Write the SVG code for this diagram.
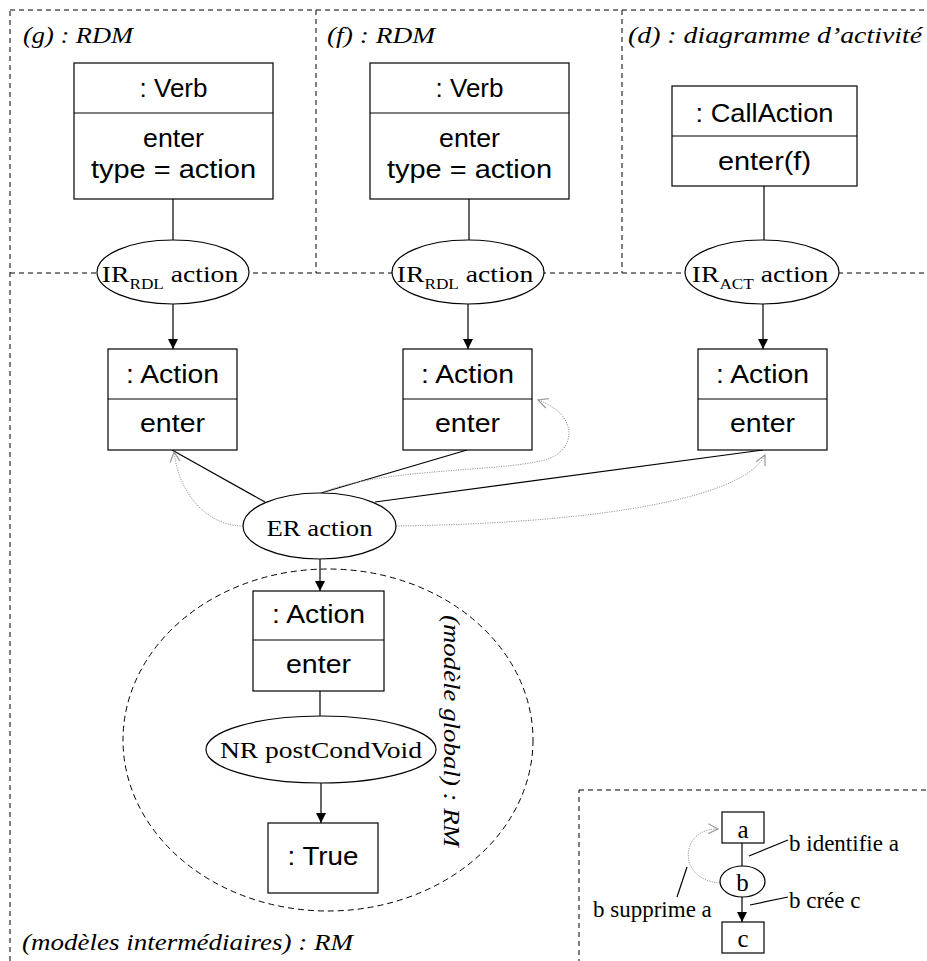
<svg xmlns="http://www.w3.org/2000/svg" width="927" height="961" viewBox="0 0 927 961">
<defs>
<style>
.bg{fill:#fff}
.region{fill:none;stroke:#000;stroke-width:1;stroke-dasharray:5,4}
.box{fill:#fff;stroke:#000;stroke-width:1.2}
.div{stroke:#000;stroke-width:1.2}
.ell{fill:#fff;stroke:#000;stroke-width:1.2}
.line{fill:none;stroke:#000;stroke-width:1.2}
.arrow{fill:none;stroke:#000;stroke-width:1.2;marker-end:url(#solid)}
.dot{fill:none;stroke:#999;stroke-width:1;stroke-dasharray:1.2,1.2;marker-end:url(#open)}
.sans{font-family:"Liberation Sans",Arial,sans-serif;font-size:25px;fill:#000;text-anchor:middle}
.serif{font-family:"Liberation Serif","Times New Roman",serif;font-size:24px;fill:#000}
.it{font-style:italic}
.mid{text-anchor:middle}
.sub{font-size:15px}
</style>
<marker id="solid" markerUnits="userSpaceOnUse" markerWidth="10" markerHeight="10" refX="10" refY="5" orient="auto">
<path d="M0,0 L10,5 L0,10 z" fill="#000"/>
</marker>
<marker id="open" markerUnits="userSpaceOnUse" markerWidth="12" markerHeight="12" refX="10" refY="6" orient="auto">
<path d="M0,1 L10,6 L0,11" fill="none" stroke="#999" stroke-width="1.2"/>
</marker>
</defs>
<rect class="bg" x="0" y="0" width="927" height="961"/>

<g id="regions">
<rect class="region" x="10" y="10" width="940" height="980"/>
<line class="region" x1="10" y1="273" x2="950" y2="273"/>
<line class="region" x1="316" y1="10" x2="316" y2="273"/>
<line class="region" x1="622" y1="10" x2="622" y2="273"/>
<rect class="region" x="579" y="790" width="400" height="200"/>
<ellipse class="region" cx="328" cy="740" rx="205" ry="171" style="stroke-dasharray:6,4"/>
<text class="serif it" x="23" y="43" textLength="110" lengthAdjust="spacingAndGlyphs">(g) : RDM</text>
<text class="serif it" x="327" y="43" textLength="108" lengthAdjust="spacingAndGlyphs">(f) : RDM</text>
<text class="serif it" x="628" y="43" textLength="294" lengthAdjust="spacingAndGlyphs">(d) : diagramme d’activité</text>
<text class="serif it mid" transform="translate(444,731) rotate(90)" textLength="232" lengthAdjust="spacingAndGlyphs">(modèle global) : RM</text>
<text class="serif it" x="22" y="950" textLength="331" lengthAdjust="spacingAndGlyphs">(modèles intermédiaires) : RM</text>
</g>

<g id="connectors">
<line class="line" x1="173" y1="199" x2="173" y2="240"/>
<line class="line" x1="469" y1="199" x2="469" y2="240"/>
<line class="line" x1="764" y1="186" x2="764" y2="240"/>
<line class="arrow" x1="173" y1="304" x2="173" y2="349"/>
<line class="arrow" x1="468" y1="304" x2="468" y2="349"/>
<line class="arrow" x1="763" y1="304" x2="763" y2="349"/>
<line class="line" x1="172" y1="450" x2="265" y2="502"/>
<line class="line" x1="467" y1="450" x2="321" y2="493"/>
<line class="line" x1="763" y1="450" x2="375" y2="502"/>
<path class="dot" d="M243,526 C212,526 180,500 174,452"/>
<path class="dot" d="M321,493 C380,468 500,472 545,460 C578,450 578,414 538,400"/>
<path class="dot" d="M396,526 C560,524 740,505 765,455"/>
<line class="arrow" x1="320" y1="559" x2="320" y2="591"/>
<line class="line" x1="320" y1="691" x2="320" y2="716"/>
<line class="arrow" x1="321" y1="783" x2="321" y2="823"/>
<line class="line" x1="742" y1="843" x2="742" y2="866"/>
<line class="arrow" x1="742" y1="897" x2="742" y2="922"/>
<path class="dot" d="M720,883 C676,880 680,828 718,829"/>
<line class="line" x1="749" y1="856" x2="788" y2="840"/>
<line class="line" x1="750" y1="905" x2="788" y2="897"/>
<line class="line" x1="677" y1="897" x2="687" y2="867"/>
</g>

<g id="verb-g">
<rect class="box" x="74" y="63" width="199" height="136"/>
<line class="div" x1="74" y1="113" x2="273" y2="113"/>
<text class="sans" x="173.5" y="97" textLength="68" lengthAdjust="spacingAndGlyphs">: Verb</text>
<text class="sans" x="173.5" y="147" textLength="61" lengthAdjust="spacingAndGlyphs">enter</text>
<text class="sans" x="173.5" y="178" textLength="165" lengthAdjust="spacingAndGlyphs">type = action</text>
</g>
<g id="verb-f">
<rect class="box" x="370" y="63" width="199" height="136"/>
<line class="div" x1="370" y1="113" x2="569" y2="113"/>
<text class="sans" x="469.5" y="97" textLength="68" lengthAdjust="spacingAndGlyphs">: Verb</text>
<text class="sans" x="469.5" y="147" textLength="61" lengthAdjust="spacingAndGlyphs">enter</text>
<text class="sans" x="469.5" y="178" textLength="165" lengthAdjust="spacingAndGlyphs">type = action</text>
</g>
<g id="callaction-d">
<rect class="box" x="672" y="86" width="185" height="100"/>
<line class="div" x1="672" y1="136" x2="857" y2="136"/>
<text class="sans" x="764.5" y="122" textLength="138" lengthAdjust="spacingAndGlyphs">: CallAction</text>
<text class="sans" x="764.5" y="170" textLength="93" lengthAdjust="spacingAndGlyphs">enter(f)</text>
</g>

<g id="ir-g">
<ellipse class="ell" cx="173" cy="272" rx="76" ry="32"/>
<text class="serif mid" transform="translate(170,282) scale(1.15,1)">IR<tspan class="sub" dy="7">RDL</tspan><tspan dy="-7"> action</tspan></text>
</g>
<g id="ir-f">
<ellipse class="ell" cx="468" cy="272" rx="76" ry="32"/>
<text class="serif mid" transform="translate(465,282) scale(1.15,1)">IR<tspan class="sub" dy="7">RDL</tspan><tspan dy="-7"> action</tspan></text>
</g>
<g id="ir-d">
<ellipse class="ell" cx="762" cy="272" rx="77" ry="32"/>
<text class="serif mid" transform="translate(760,282) scale(1.15,1)">IR<tspan class="sub" dy="7">ACT</tspan><tspan dy="-7"> action</tspan></text>
</g>

<g id="action-g">
<rect class="box" x="108" y="349" width="129" height="101"/>
<line class="div" x1="108" y1="399" x2="237" y2="399"/>
<text class="sans" x="172.5" y="383" textLength="93" lengthAdjust="spacingAndGlyphs">: Action</text>
<text class="sans" x="172.5" y="432" textLength="65" lengthAdjust="spacingAndGlyphs">enter</text>
</g>
<g id="action-f">
<rect class="box" x="403" y="349" width="129" height="101"/>
<line class="div" x1="403" y1="399" x2="532" y2="399"/>
<text class="sans" x="467.5" y="383" textLength="93" lengthAdjust="spacingAndGlyphs">: Action</text>
<text class="sans" x="467.5" y="432" textLength="65" lengthAdjust="spacingAndGlyphs">enter</text>
</g>
<g id="action-d">
<rect class="box" x="698" y="349" width="129" height="101"/>
<line class="div" x1="698" y1="399" x2="827" y2="399"/>
<text class="sans" x="762.5" y="383" textLength="93" lengthAdjust="spacingAndGlyphs">: Action</text>
<text class="sans" x="762.5" y="432" textLength="65" lengthAdjust="spacingAndGlyphs">enter</text>
</g>

<g id="er-action">
<ellipse class="ell" cx="319.5" cy="526" rx="76.5" ry="33"/>
<text class="serif mid" x="319.5" y="536" textLength="106" lengthAdjust="spacingAndGlyphs">ER action</text>
</g>

<g id="action-global">
<rect class="box" x="253" y="591" width="131" height="100"/>
<line class="div" x1="253" y1="640" x2="384" y2="640"/>
<text class="sans" x="318.5" y="623" textLength="93" lengthAdjust="spacingAndGlyphs">: Action</text>
<text class="sans" x="318.5" y="673" textLength="65" lengthAdjust="spacingAndGlyphs">enter</text>
</g>
<g id="nr-postcondvoid">
<ellipse class="ell" cx="321" cy="749.5" rx="115" ry="33.5"/>
<text class="serif mid" x="321" y="758" textLength="202" lengthAdjust="spacingAndGlyphs">NR postCondVoid</text>
</g>
<g id="true">
<rect class="box" x="268" y="823" width="110" height="70"/>
<text class="sans" x="323" y="865" textLength="71" lengthAdjust="spacingAndGlyphs">: True</text>
</g>

<g id="legend-a">
<rect class="box" x="722" y="812" width="42" height="31"/>
<text class="serif mid" x="743" y="838" style="font-size:25px">a</text>
</g>
<g id="legend-b">
<ellipse class="ell" cx="742.5" cy="881.5" rx="22.5" ry="15.5"/>
<text class="serif mid" x="742.5" y="891" style="font-size:25px">b</text>
</g>
<g id="legend-c">
<rect class="box" x="722" y="922" width="42" height="31"/>
<text class="serif mid" x="743" y="947" style="font-size:25px">c</text>
</g>
<g id="legend-labels">
<text class="serif" x="789" y="851" style="font-size:23px">b identifie a</text>
<text class="serif" x="789" y="908" style="font-size:23px">b crée c</text>
<text class="serif" x="593" y="917" style="font-size:23px">b supprime a</text>
</g>
</svg>
